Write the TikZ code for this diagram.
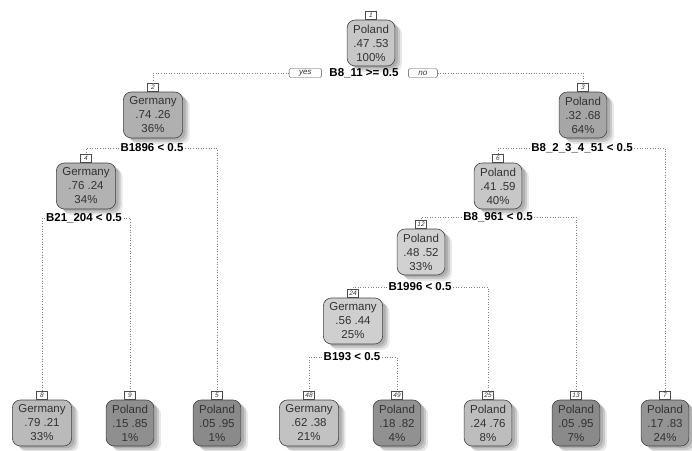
\documentclass[tikz,border=0pt]{standalone}
\usepackage{fontspec}
\setmainfont{Liberation Sans}
\usepackage{tikz}
\usetikzlibrary{positioning, shadows}
\definecolor{treetext}{HTML}{333333}
\definecolor{treeline}{HTML}{7F7F7F}

\begin{document}
\begin{tikzpicture}[
    x=1pt, y=-1pt,
    every node/.style={font=\fontsize{11.5}{14}\selectfont},
    leafbox/.style={draw=black!75, rounded corners=8pt, align=center, text=treetext, inner xsep=6pt, inner ysep=2pt, minimum height=46pt, line width=0.6pt,
        drop shadow={shadow xshift=7pt, shadow yshift=-6pt, opacity=0.15, fill=black!60},
        drop shadow={shadow xshift=5pt, shadow yshift=-4pt, opacity=0.25, fill=black!60},
        drop shadow={shadow xshift=3pt, shadow yshift=-2pt, opacity=0.25, fill=black!60}},
    numtag/.style={draw=black!70, fill=white, font=\fontsize{6.5}{7}\selectfont\itshape, text=treetext, inner sep=0.8pt, minimum width=11pt, minimum height=8.5pt, line width=0.4pt},
    splitlabel/.style={font=\fontsize{11.5}{13}\selectfont\bfseries, inner sep=1.5pt},
    answer/.style={draw=black!70, fill=white, rounded corners=1.5pt, font=\fontsize{8}{9}\selectfont\itshape, text=treetext, inner xsep=10pt, inner ysep=0.5pt, minimum height=9pt, line width=0.4pt},
    branch/.style={draw=treeline, dotted, line width=0.6pt}
]
    \useasboundingbox (0,0) rectangle (692,450);

    \node[leafbox, fill=black!22] (n1) at (371,43) {Poland\\.47 .53\\100\%};
    \node[numtag, above=0pt of n1] (t1) {1};
    \node[splitlabel] (s1) at (364,73) {B8\_11 >= 0.5};
    \node[answer, left=6pt of s1] (yes) {yes};
    \node[answer, right=8pt of s1] (no) {no};

    \node[leafbox, fill=black!31] (n2) at (153,115) {Germany\\.74 .26\\36\%};
    \node[numtag, above=0pt of n2] (t2) {2};
    \node[splitlabel] (s2) at (152,148) {B1896 < 0.5};

    \node[leafbox, fill=black!35] (n3) at (583,115) {Poland\\.32 .68\\64\%};
    \node[numtag, above=0pt of n3] (t3) {3};
    \node[splitlabel] (s3) at (582,148) {B8\_2\_3\_4\_51 < 0.5};

    \node[leafbox, fill=black!30] (n4) at (86,186) {Germany\\.76 .24\\34\%};
    \node[numtag, above=0pt of n4] (t4) {4};
    \node[splitlabel] (s4) at (84,218) {B21\_204 < 0.5};

    \node[leafbox, fill=black!22] (n6) at (498,186) {Poland\\.41 .59\\40\%};
    \node[numtag, above=0pt of n6] (t6) {6};
    \node[splitlabel] (s6) at (498,217) {B8\_961 < 0.5};

    \node[leafbox, fill=black!18] (n12) at (421,252) {Poland\\.48 .52\\33\%};
    \node[numtag, above=0pt of n12] (t12) {12};
    \node[splitlabel] (s12) at (420,287) {B1996 < 0.5};

    \node[leafbox, fill=black!19] (n24) at (353,321) {Germany\\.56 .44\\25\%};
    \node[numtag, above=0pt of n24] (t24) {24};
    \node[splitlabel] (s24) at (352,357) {B193 < 0.5};

    \node[leafbox, fill=black!27] (n8) at (42,423) {Germany\\.79 .21\\33\%};
    \node[numtag, above=0pt of n8] (t8) {8};
    \node[leafbox, fill=black!44] (n9) at (130,423) {Poland\\.15 .85\\1\%};
    \node[numtag, above=0pt of n9] (t9) {9};
    \node[leafbox, fill=black!46] (n5) at (217,423) {Poland\\.05 .95\\1\%};
    \node[numtag, above=0pt of n5] (t5) {5};
    \node[leafbox, fill=black!24] (n48) at (309,423) {Germany\\.62 .38\\21\%};
    \node[numtag, above=0pt of n48] (t48) {48};
    \node[leafbox, fill=black!43] (n49) at (397,423) {Poland\\.18 .82\\4\%};
    \node[numtag, above=0pt of n49] (t49) {49};
    \node[leafbox, fill=black!26] (n25) at (488,423) {Poland\\.24 .76\\8\%};
    \node[numtag, above=0pt of n25] (t25) {25};
    \node[leafbox, fill=black!46] (n13) at (576,423) {Poland\\.05 .95\\7\%};
    \node[numtag, above=0pt of n13] (t13) {13};
    \node[leafbox, fill=black!42] (n7) at (665,423) {Poland\\.17 .83\\24\%};
    \node[numtag, above=0pt of n7] (t7) {7};

    \draw[branch] (yes.west) -| (t2.north);
    \draw[branch] (no.east) -| (t3.north);
    \draw[branch] (s2.west) -| (t4.north);
    \draw[branch] (s2.east) -| (t5.north);
    \draw[branch] (s3.west) -| (t6.north);
    \draw[branch] (s3.east) -| (t7.north);
    \draw[branch] (s4.west) -| (t8.north);
    \draw[branch] (s4.east) -| (t9.north);
    \draw[branch] (s6.west) -| (t12.north);
    \draw[branch] (s6.east) -| (t13.north);
    \draw[branch] (s12.west) -| (t24.north);
    \draw[branch] (s12.east) -| (t25.north);
    \draw[branch] (s24.west) -| (t48.north);
    \draw[branch] (s24.east) -| (t49.north);
\end{tikzpicture}
\end{document}
